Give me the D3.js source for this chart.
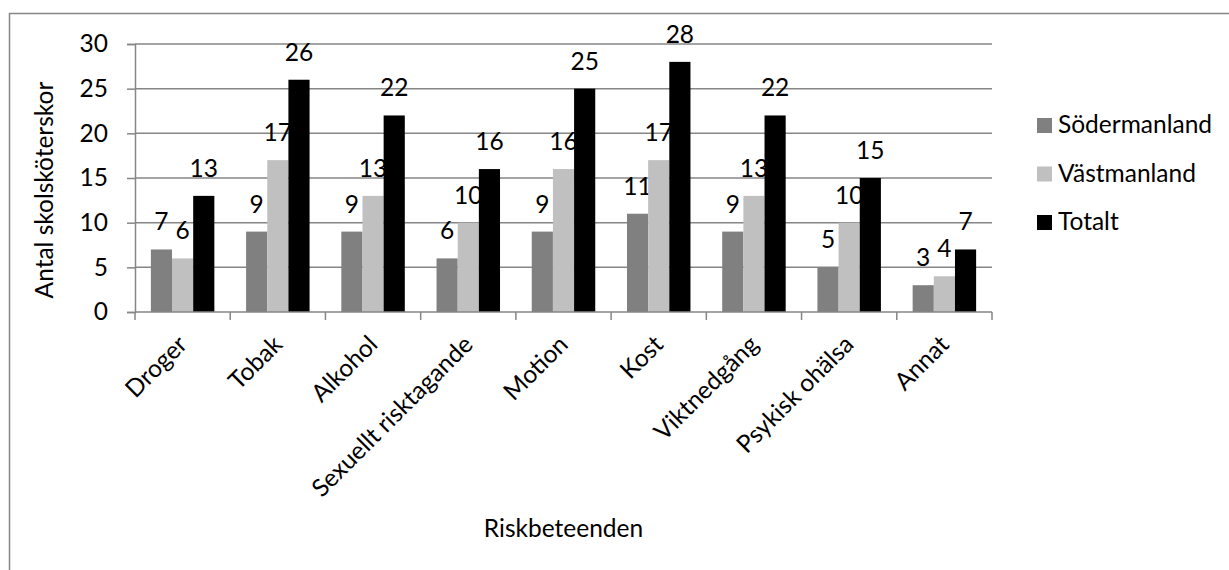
<!DOCTYPE html>
<html>
<head>
<meta charset="utf-8">
<script src="https://cdn.jsdelivr.net/npm/d3@7"></script>
<style>
  body { margin: 0; background: #fff; }
  svg text { font-family: Lato, "Open Sans", sans-serif; fill: #000; }
</style>
</head>
<body>
<div id="main"></div>
<script>
// chart data
const categories = ['Droger', 'Tobak', 'Alkohol', 'Sexuellt risktagande', 'Motion', 'Kost', 'Viktnedgång', 'Psykisk ohälsa', 'Annat'];
const seriesNames = ['Södermanland', 'Västmanland', 'Totalt'];
const sodermanland = [7, 9, 9, 6, 9, 11, 9, 5, 3];
const vastmanland = [6, 17, 13, 10, 16, 17, 13, 10, 4];
const totalt = [13, 26, 22, 16, 25, 28, 22, 15, 7];
const yTicks = [0, 5, 10, 15, 20, 25, 30];
const colors = ['#808080', '#c0c0c0', '#000000'];

const values = [sodermanland, vastmanland, totalt];
const fontSize = 24.5;
const gridColor = '#868686';

const svg = d3.select('div#main')
  .append('svg')
  .attr('width', 1229)
  .attr('height', 570);

// outer chart border
svg.append('rect')
  .attr('x', 9.5)
  .attr('y', 13.5)
  .attr('width', 1300)
  .attr('height', 700)
  .attr('fill', 'none')
  .attr('stroke', gridColor)
  .attr('stroke-width', 1.5);

// scales
const x = d3.scaleBand().domain(categories).range([135, 992]);
const xs = d3.scaleBand().domain(seriesNames).range([0, x.bandwidth()]).paddingOuter(0.75);
const y = d3.scaleLinear().domain([0, 30]).range([312, 44]);

// gridlines + y axis
const yAxis = svg.append('g')
  .attr('transform', 'translate(135,0)')
  .call(d3.axisLeft(y).tickValues(yTicks).tickSize(8).tickPadding(19));
yAxis.select('.domain').attr('stroke', gridColor).attr('stroke-width', 1.5);
yAxis.selectAll('.tick line').attr('stroke', gridColor).attr('stroke-width', 1.5);
yAxis.selectAll('.tick text')
  .attr('font-size', fontSize)
  .attr('font-family', null)
  .attr('fill', '#000');

svg.append('g')
  .selectAll('line')
  .data(yTicks.filter(d => d > 0))
  .join('line')
  .attr('x1', 135)
  .attr('x2', 992)
  .attr('y1', d => y(d))
  .attr('y2', d => y(d))
  .attr('stroke', gridColor)
  .attr('stroke-width', 1.5);

// bars
const groups = svg.append('g')
  .selectAll('g')
  .data(seriesNames)
  .join('g')
  .attr('fill', (d, i) => colors[i]);

groups.selectAll('rect')
  .data((s, i) => categories.map((c, j) => ({ c: c, s: s, v: values[i][j] })))
  .join('rect')
  .attr('x', d => x(d.c) + xs(d.s))
  .attr('y', d => y(d.v))
  .attr('width', xs.bandwidth())
  .attr('height', d => y(0) - y(d.v));

// value labels
groups.selectAll('text')
  .data((s, i) => categories.map((c, j) => ({ c: c, s: s, v: values[i][j] })))
  .join('text')
  .attr('x', d => x(d.c) + xs(d.s) + xs.bandwidth() / 2)
  .attr('y', d => y(d.v) - 19)
  .attr('text-anchor', 'middle')
  .attr('font-size', fontSize)
  .text(d => d.v);

// x axis
const xAxis = svg.append('g');
xAxis.append('line')
  .attr('x1', 135)
  .attr('x2', 992)
  .attr('y1', y(0))
  .attr('y2', y(0))
  .attr('stroke', gridColor)
  .attr('stroke-width', 1.5);
xAxis.selectAll('line.tick')
  .data(categories.concat(['end']))
  .join('line')
  .attr('class', 'tick')
  .attr('x1', d => d === 'end' ? x.range()[1] : x(d))
  .attr('x2', d => d === 'end' ? x.range()[1] : x(d))
  .attr('y1', y(0))
  .attr('y2', y(0) + 8)
  .attr('stroke', gridColor)
  .attr('stroke-width', 1.5);
xAxis.selectAll('text')
  .data(categories)
  .join('text')
  .attr('transform', d => `translate(${x(d) + x.bandwidth() / 2 + 6},${y(0) + 34}) rotate(-45)`)
  .attr('text-anchor', 'end')
  .attr('font-size', fontSize)
  .text(d => d);

// axis titles
svg.append('text')
  .attr('transform', 'translate(53,190) rotate(-90)')
  .attr('text-anchor', 'middle')
  .attr('font-size', fontSize)
  .text('Antal skolsköterskor');

svg.append('text')
  .attr('x', (x.range()[0] + x.range()[1]) / 2)
  .attr('y', 537)
  .attr('text-anchor', 'middle')
  .attr('font-size', fontSize)
  .text('Riskbeteenden');

// legend
const legend = svg.append('g')
  .selectAll('g')
  .data(seriesNames)
  .join('g')
  .attr('transform', (d, i) => `translate(1037,${118 + i * 48.5})`);
legend.append('rect')
  .attr('width', 15)
  .attr('height', 15)
  .attr('fill', (d, i) => colors[i]);
legend.append('text')
  .attr('x', 21)
  .attr('y', 15)
  .attr('font-size', fontSize)
  .text(d => d);
</script>
</body>
</html>
